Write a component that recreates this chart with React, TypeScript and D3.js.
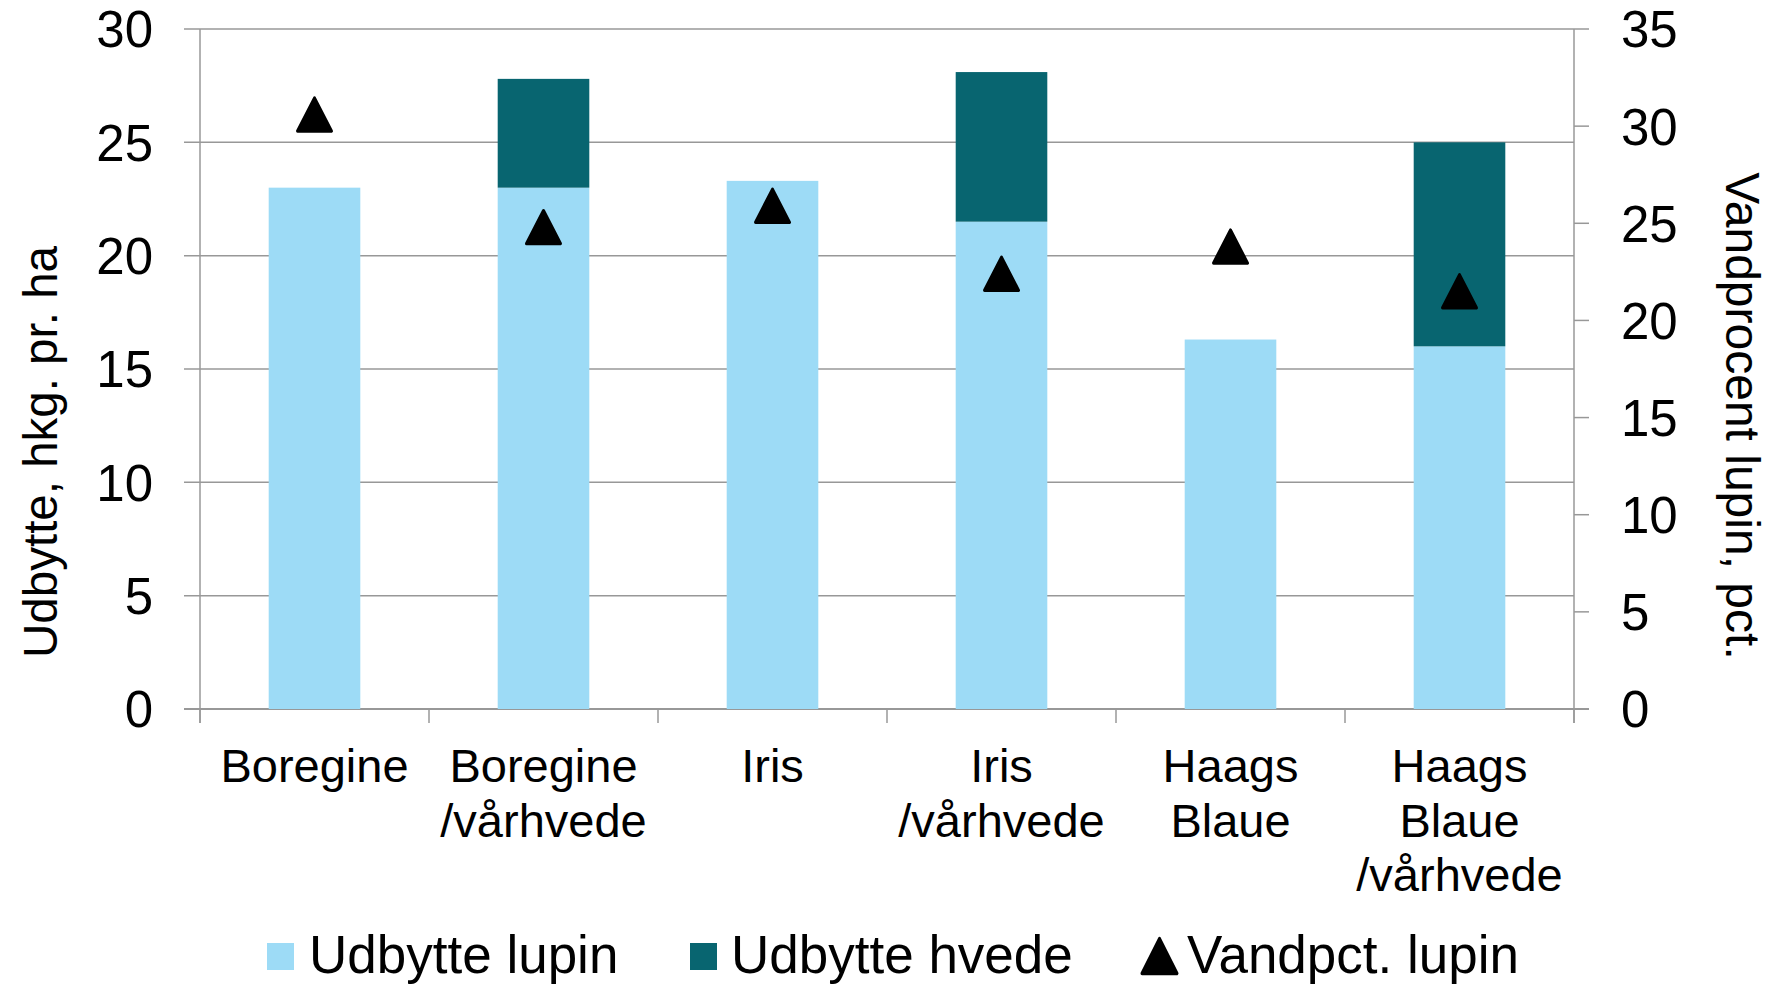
import { FC, useEffect, useRef } from 'react';
import * as d3 from 'd3';

// categories, one entry per label line
const categories = ['Boregine', 'Boregine/vårhvede', 'Iris', 'Iris/vårhvede', 'Haags Blaue', 'Haags Blaue/vårhvede'];
const categoryLines = [
  ['Boregine'],
  ['Boregine', '/vårhvede'],
  ['Iris'],
  ['Iris', '/vårhvede'],
  ['Haags', 'Blaue'],
  ['Haags', 'Blaue', '/vårhvede'],
];

// Udbytte, hkg. pr. ha (left axis)
const udbytteLupin = [23.0, 23.0, 23.3, 21.5, 16.3, 16.0];
const udbytteHvede = [0, 4.8, 0, 6.6, 0, 9.0];
// Vandprocent lupin, pct. (right axis)
const vandpctLupin = [30.6, 24.8, 25.9, 22.4, 23.8, 21.5];

const leftTicks = [0, 5, 10, 15, 20, 25, 30];
const rightTicks = [0, 5, 10, 15, 20, 25, 30, 35];

const WIDTH = 1773;
const HEIGHT = 985;
const FONT = '"Liberation Sans", Arial, Helvetica, sans-serif';
const LUPIN_COLOR = '#9DDBF6';
const HVEDE_COLOR = '#086570';
const GRID_COLOR = '#989898';

const App: FC = () => {
  const svgRef = useRef<SVGSVGElement>(null);

  useEffect(() => {
    if (!svgRef.current) return;
    const svg = d3.select(svgRef.current);
    svg.selectAll('*').remove();

    const left = 200;
    const right = 1574;
    const top = 29;
    const bottom = 709;

    const x = d3.scaleBand<string>()
        .domain(categories)
        .range([left, right])
        .paddingInner(0.6)
        .paddingOuter(0.3);

    const xCell = d3.scaleBand<string>()
        .domain(categories)
        .range([left, right])
        .padding(0);

    const yLeft = d3.scaleLinear().domain([0, 30]).range([bottom, top]);
    const yRight = d3.scaleLinear().domain([0, 35]).range([bottom, top]);

    // gridlines + left ticks
    svg.append('g')
        .selectAll('line')
        .data(leftTicks)
        .enter()
        .append('line')
        .attr('x1', left - 16)
        .attr('x2', right)
        .attr('y1', d => yLeft(d))
        .attr('y2', d => yLeft(d))
        .attr('stroke', GRID_COLOR)
        .attr('stroke-width', 1.5);

    // right ticks
    svg.append('g')
        .selectAll('line')
        .data(rightTicks)
        .enter()
        .append('line')
        .attr('x1', right)
        .attr('x2', right + 15)
        .attr('y1', d => yRight(d))
        .attr('y2', d => yRight(d))
        .attr('stroke', GRID_COLOR)
        .attr('stroke-width', 1.5);

    // vertical axis lines
    [left, right].forEach(px => {
      svg.append('line')
          .attr('x1', px)
          .attr('x2', px)
          .attr('y1', top)
          .attr('y2', bottom + 14)
          .attr('stroke', GRID_COLOR)
          .attr('stroke-width', 1.5);
    });

    // bottom axis
    svg.append('line')
        .attr('x1', left - 16)
        .attr('x2', right + 15)
        .attr('y1', bottom)
        .attr('y2', bottom)
        .attr('stroke', GRID_COLOR)
        .attr('stroke-width', 2);

    const boundaries = categories.map(c => xCell(c) as number).concat([right]);
    svg.append('g')
        .selectAll('line')
        .data(boundaries)
        .enter()
        .append('line')
        .attr('x1', d => d)
        .attr('x2', d => d)
        .attr('y1', bottom)
        .attr('y2', bottom + 14)
        .attr('stroke', GRID_COLOR)
        .attr('stroke-width', 1.5);

    // bars
    svg.append('g')
        .selectAll('rect')
        .data(categories)
        .enter()
        .append('rect')
        .attr('x', d => x(d) as number)
        .attr('width', x.bandwidth())
        .attr('y', (_, i) => yLeft(udbytteLupin[i]))
        .attr('height', (_, i) => yLeft(0) - yLeft(udbytteLupin[i]))
        .attr('fill', LUPIN_COLOR);

    svg.append('g')
        .selectAll('rect')
        .data(categories)
        .enter()
        .filter((_, i) => udbytteHvede[i] > 0)
        .append('rect')
        .attr('x', d => x(d) as number)
        .attr('width', x.bandwidth())
        .attr('y', d => {
          const i = categories.indexOf(d);
          return yLeft(udbytteLupin[i] + udbytteHvede[i]);
        })
        .attr('height', d => {
          const i = categories.indexOf(d);
          return yLeft(udbytteLupin[i]) - yLeft(udbytteLupin[i] + udbytteHvede[i]);
        })
        .attr('fill', HVEDE_COLOR);

    // triangle markers
    const triSize = 500;
    const triY = Math.sqrt(triSize / (3 * Math.sqrt(3)));
    const triSy = 1.12;
    const triangle = d3.symbol().type(d3.symbolTriangle).size(triSize)();

    svg.append('g')
        .selectAll('path')
        .data(categories)
        .enter()
        .append('path')
        .attr('d', triangle)
        .attr('transform', (d, i) => {
          const cx = (xCell(d) as number) + xCell.bandwidth() / 2;
          const cy = yRight(vandpctLupin[i]) + (triY * triSy) / 2;
          return `translate(${cx},${cy}) scale(1,${triSy})`;
        })
        .attr('fill', '#000')
        .attr('stroke', '#000')
        .attr('stroke-width', 3)
        .attr('stroke-linejoin', 'round');

    // tick labels
    svg.append('g')
        .selectAll('text')
        .data(leftTicks)
        .enter()
        .append('text')
        .attr('x', 153)
        .attr('y', d => yLeft(d))
        .attr('dy', '0.36em')
        .attr('text-anchor', 'end')
        .attr('font-family', FONT)
        .attr('font-size', 51)
        .attr('fill', '#000')
        .text(d => d.toString());

    svg.append('g')
        .selectAll('text')
        .data(rightTicks)
        .enter()
        .append('text')
        .attr('x', 1621)
        .attr('y', d => yRight(d))
        .attr('dy', '0.36em')
        .attr('text-anchor', 'start')
        .attr('font-family', FONT)
        .attr('font-size', 51)
        .attr('fill', '#000')
        .text(d => d.toString());

    // category labels
    categories.forEach((c, i) => {
      const cx = (xCell(c) as number) + xCell.bandwidth() / 2;
      const t = svg.append('text')
          .attr('x', cx)
          .attr('y', 782)
          .attr('text-anchor', 'middle')
          .attr('font-family', FONT)
          .attr('font-size', 47)
          .attr('fill', '#000');
      categoryLines[i].forEach((line, j) => {
        t.append('tspan')
            .attr('x', cx)
            .attr('y', 782 + j * 54.5)
            .text(line);
      });
    });

    // axis titles
    svg.append('text')
        .attr('transform', 'translate(57,452) rotate(-90)')
        .attr('text-anchor', 'middle')
        .attr('font-family', FONT)
        .attr('font-size', 47.5)
        .attr('fill', '#000')
        .text('Udbytte, hkg. pr. ha');

    svg.append('text')
        .attr('transform', 'translate(1726,416) rotate(90)')
        .attr('text-anchor', 'middle')
        .attr('font-family', FONT)
        .attr('font-size', 48)
        .attr('fill', '#000')
        .text('Vandprocent lupin, pct.');

    // legend
    const legend = svg.append('g');
    legend.append('rect')
        .attr('x', 267).attr('y', 943).attr('width', 27).attr('height', 27)
        .attr('fill', LUPIN_COLOR);
    legend.append('text')
        .attr('x', 309).attr('y', 973)
        .attr('font-family', FONT).attr('font-size', 53).attr('fill', '#000')
        .text('Udbytte lupin');

    legend.append('rect')
        .attr('x', 690).attr('y', 943).attr('width', 27).attr('height', 27)
        .attr('fill', HVEDE_COLOR);
    legend.append('text')
        .attr('x', 731).attr('y', 973)
        .attr('font-family', FONT).attr('font-size', 53).attr('fill', '#000')
        .text('Udbytte hvede');

    const legSize = 530;
    const legY = Math.sqrt(legSize / (3 * Math.sqrt(3)));
    const legSy = 1.15;
    legend.append('path')
        .attr('d', d3.symbol().type(d3.symbolTriangle).size(legSize)())
        .attr('transform', `translate(1159.5,${956 + (legY * legSy) / 2}) scale(1,${legSy})`)
        .attr('fill', '#000')
        .attr('stroke', '#000')
        .attr('stroke-width', 3)
        .attr('stroke-linejoin', 'round');
    legend.append('text')
        .attr('x', 1187).attr('y', 973)
        .attr('font-family', FONT).attr('font-size', 53).attr('fill', '#000')
        .text('Vandpct. lupin');
  }, []);

  return (
      <svg
          ref={svgRef}
          width={WIDTH}
          height={HEIGHT}
          style={{ position: 'absolute', left: 0, top: 0, display: 'block', background: '#fff' }}
      />
  );
};

export default App;
